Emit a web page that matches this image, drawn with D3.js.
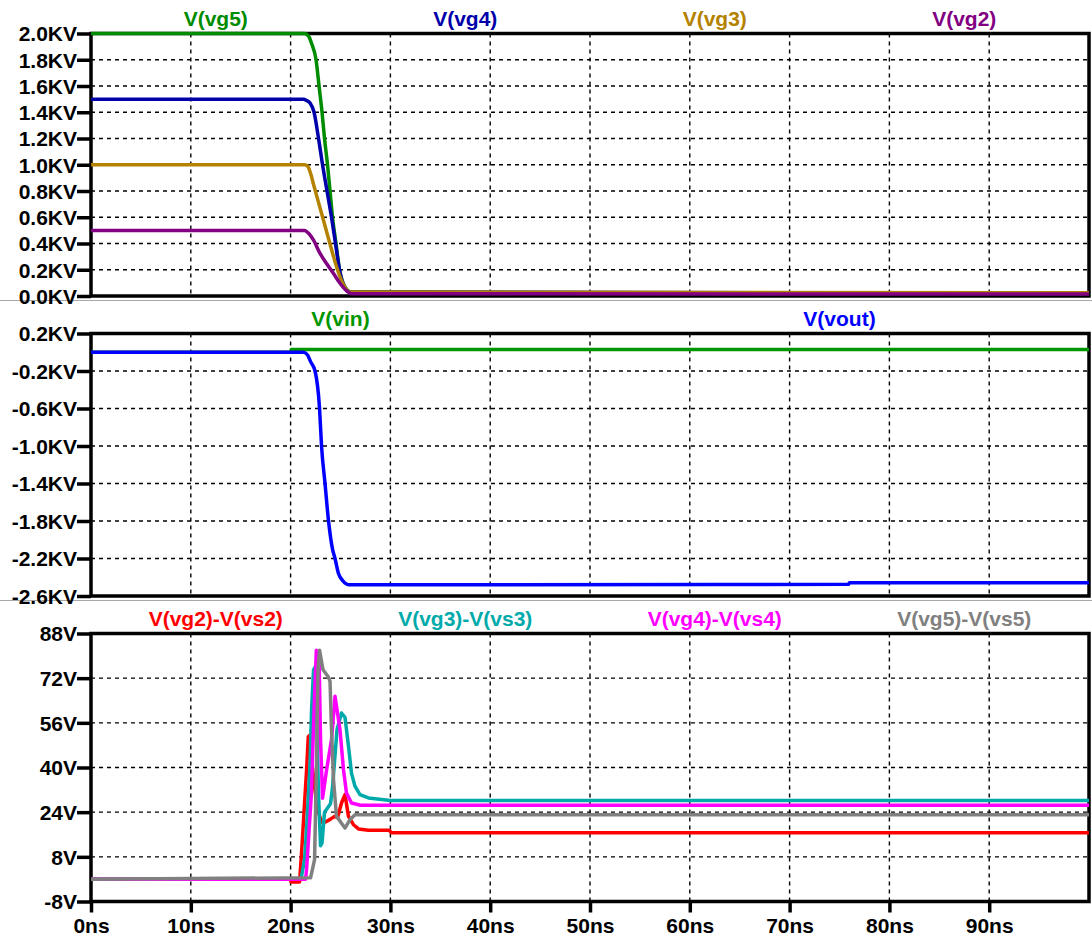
<!DOCTYPE html>
<html>
<head>
<meta charset="utf-8">
<script src="https://cdn.jsdelivr.net/npm/d3@7"></script>
<style>
  html, body { margin: 0; padding: 0; background: #fff; }
  svg { display: block; }
  text { font-family: "Liberation Sans", Arial, sans-serif; font-weight: bold; font-size: 21px; }
</style>
</head>
<body>
<svg id="chart" width="1092" height="940"></svg>
<script>
// ---------------- DATA ----------------
// Time axis (ns)
const xTicks = [0, 10, 20, 30, 40, 50, 60, 70, 80, 90];

// Panel 1 (KV)
const p1Ticks = [2.0, 1.8, 1.6, 1.4, 1.2, 1.0, 0.8, 0.6, 0.4, 0.2, 0.0];
const p1Names = ["V(vg5)", "V(vg4)", "V(vg3)", "V(vg2)"];
const tVg5 = [0, 21.4, 21.8, 22.1, 22.55, 22.85, 23.15, 23.4, 23.7, 23.95, 24.2, 24.55, 24.9, 25.45, 26.1, 100];
const vg5  = [2.0, 2.0, 1.98, 1.925, 1.8, 1.6, 1.4, 1.2, 1.0, 0.8, 0.6, 0.4, 0.2, 0.07, 0.03, 0.02];
const tVg4 = [0, 21.3, 21.6, 21.95, 22.35, 22.8, 23.2, 23.65, 24.1, 24.5, 24.9, 25.4, 26.0, 100];
const vg4  = [1.5, 1.5, 1.49, 1.47, 1.4, 1.2, 1.0, 0.8, 0.6, 0.4, 0.2, 0.07, 0.03, 0.02];
const tVg3 = [0, 21.4, 21.7, 22.0, 22.3, 22.7, 23.1, 23.5, 23.9, 24.3, 24.7, 25.3, 25.95, 100];
const vg3  = [1.0, 1.0, 0.99, 0.935, 0.85, 0.74, 0.63, 0.52, 0.41, 0.3, 0.2, 0.085, 0.03, 0.025];
const tVg2 = [0, 21.4, 21.8, 22.3, 22.95, 23.6, 24.3, 24.95, 25.6, 26.1, 100];
const vg2  = [0.5, 0.5, 0.478, 0.425, 0.324, 0.248, 0.171, 0.097, 0.04, 0.018, 0.015];

// Panel 2 (KV)
const p2Ticks = [0.2, -0.2, -0.6, -1.0, -1.4, -1.8, -2.2, -2.6];
const p2Names = ["V(vin)", "V(vout)"];
const tVin = [0, 20, 20.05, 100];
const vin  = [0, 0, 0.03, 0.03];
const tVout = [0, 21.3, 21.7, 22.0, 22.45, 22.9, 23.1, 23.45, 23.8, 24.2, 24.45, 24.8, 25.25, 25.8, 40, 75.9, 76.0, 100];
const vout  = [0, 0, -0.03, -0.1, -0.2, -0.6, -1.0, -1.4, -1.8, -2.1, -2.2, -2.36, -2.44, -2.48, -2.48, -2.475, -2.458, -2.458];

// Panel 3 (V)
const p3Ticks = [88, 72, 56, 40, 24, 8, -8];
const p3Names = ["V(vg2)-V(vs2)", "V(vg3)-V(vs3)", "V(vg4)-V(vs4)", "V(vg5)-V(vs5)"];
const tGs2 = [0, 20, 20.05, 20.9, 21.07, 21.24, 21.4, 21.6, 21.77, 21.9, 22.1, 22.4, 22.7, 23.1, 23.5, 24.0, 24.4, 24.7, 25.1, 25.45, 25.8, 26.3, 26.8, 27.8, 29.9, 30.1, 100];
const gs2  = [0, 0, -1, -1, 8, 17.7, 27.3, 39, 51, 51.5, 43, 33, 25, 20.5, 20.5, 21.5, 22.5, 22, 27.3, 30.3, 22.5, 19.5, 18, 17.5, 17.5, 16.6, 16.6];
const tGs3 = [0, 21.0, 21.07, 21.4, 21.6, 21.95, 22.1, 22.3, 22.45, 22.6, 22.8, 23.0, 23.15, 23.4, 24.0, 24.2, 24.4, 24.65, 25.1, 25.45, 25.8, 26.1, 26.45, 26.95, 27.8, 30, 100];
const gs3  = [0, 0, 0.5, 7, 17.8, 41.6, 60.7, 75, 76, 60, 30, 12, 13, 24, 27, 33, 42, 53.5, 59.5, 58, 47.6, 38, 33.3, 30.3, 29.1, 28.2, 28.2];
const tGs4 = [0, 21.5, 21.6, 22.07, 22.4, 22.58, 22.85, 23.0, 23.2, 23.6, 24.1, 24.45, 24.95, 25.3, 25.6, 26.1, 27, 100];
const gs4  = [0, 0, 3.4, 29.7, 65.5, 82, 80, 50, 29, 39, 50, 65.5, 53.5, 39.2, 30.9, 27.3, 26.5, 26.5];
const tGs5 = [0, 22.0, 22.4, 22.6, 22.75, 22.9, 23.25, 23.75, 23.95, 24.1, 24.3, 24.6, 25.1, 25.45, 25.95, 26.45, 100];
const gs5  = [0, 0.5, 7, 41.6, 75, 82, 75, 72.6, 71, 53.5, 35.6, 22.5, 20, 18.3, 21.3, 23.1, 23.1];

// ---------------- DRAWING ----------------
const svg = d3.select("#chart");
const x = d3.scaleLinear().domain([0, 100]).range([91, 1089]);

const zip = (t, v) => t.map((d, i) => [d, v[i]]);

const panels = [
  {
    top: 33.5, bottom: 296, domain: [0, 2.0], ticks: p1Ticks,
    fmt: d => d3.format(".1f")(d) + "KV",
    curve: d3.curveMonotoneX,
    series: [
      { name: p1Names[0], color: "#008c00", data: zip(tVg5, vg5) },
      { name: p1Names[1], color: "#0000aa", data: zip(tVg4, vg4) },
      { name: p1Names[2], color: "#b48200", data: zip(tVg3, vg3) },
      { name: p1Names[3], color: "#820082", data: zip(tVg2, vg2) }
    ]
  },
  {
    top: 333.5, bottom: 596, domain: [-2.6, 0.2], ticks: p2Ticks,
    fmt: d => d3.format(".1f")(d).replace("\u2212", "-") + "KV",
    curve: d3.curveMonotoneX,
    series: [
      { name: p2Names[0], color: "#009600", data: zip(tVin, vin) },
      { name: p2Names[1], color: "#0000ff", data: zip(tVout, vout) }
    ]
  },
  {
    top: 633.5, bottom: 901.5, domain: [-8, 88], ticks: p3Ticks,
    fmt: d => String(d) + "V",
    curve: d3.curveLinear,
    series: [
      { name: p3Names[0], color: "#ff0000", data: zip(tGs2, gs2) },
      { name: p3Names[1], color: "#00aaaa", data: zip(tGs3, gs3) },
      { name: p3Names[2], color: "#ff00ff", data: zip(tGs4, gs4) },
      { name: p3Names[3], color: "#808080", data: zip(tGs5, gs5) }
    ]
  }
];

// separators
[300.5, 600.5].forEach(yy => {
  svg.append("line").attr("x1", 0).attr("x2", 1092).attr("y1", yy).attr("y2", yy)
    .attr("stroke", "#a8a8a8").attr("stroke-width", 1);
});

const x0 = x.range()[0], x1 = x.range()[1];

panels.forEach((p, pi) => {
  const y = d3.scaleLinear().domain(p.domain).range([p.bottom, p.top]);
  const g = svg.append("g");

  // grid
  const grid = g.append("g").attr("stroke", "#000").attr("stroke-width", 1.4)
    .attr("stroke-dasharray", "4,4").attr("fill", "none");
  p.ticks.filter(v => v !== p.domain[0] && v !== p.domain[1]).forEach(v => {
    grid.append("line").attr("x1", x0).attr("x2", x1).attr("y1", y(v)).attr("y2", y(v));
  });
  xTicks.filter(v => v !== 0).forEach(v => {
    grid.append("line").attr("x1", x(v)).attr("x2", x(v)).attr("y1", p.top).attr("y2", p.bottom);
  });

  // frame
  g.append("rect").attr("x", x0).attr("y", p.top).attr("width", x1 - x0).attr("height", p.bottom - p.top)
    .attr("fill", "none").attr("stroke", "#000").attr("stroke-width", 3.5);

  // y axis
  const ya = g.append("g").attr("transform", `translate(${x0},0)`)
    .call(d3.axisLeft(y).tickValues(p.ticks).tickFormat(p.fmt).tickSize(14).tickPadding(0));
  ya.select(".domain").remove();
  ya.selectAll(".tick line").attr("stroke", "#000").attr("stroke-width", 3.5);
  ya.selectAll(".tick text").attr("fill", "#000").attr("dy", "0.35em")
    .style("font-family", '"Liberation Sans", Arial, sans-serif').style("font-size", "21px").style("font-weight", "bold");

  // x axis for last panel
  if (pi === panels.length - 1) {
    const xa = g.append("g").attr("transform", `translate(0,${p.bottom})`)
      .call(d3.axisBottom(x).tickValues(xTicks).tickFormat(d => d + "ns").tickSize(11).tickPadding(6));
    xa.select(".domain").remove();
    xa.selectAll(".tick line").attr("stroke", "#000").attr("stroke-width", 3.5);
    xa.selectAll(".tick text").attr("fill", "#000")
      .style("font-family", '"Liberation Sans", Arial, sans-serif').style("font-size", "21px").style("font-weight", "bold");
  }

  // lines
  const line = d3.line().x(d => x(d[0])).y(d => y(d[1])).curve(p.curve);
  p.series.forEach(s => {
    g.append("path").datum(s.data).attr("d", line)
      .attr("fill", "none").attr("stroke", s.color).attr("stroke-width", 3.5)
      .attr("stroke-linejoin", "round").attr("stroke-linecap", "butt");
  });

  // titles
  const n = p.series.length;
  p.series.forEach((s, i) => {
    g.append("text")
      .attr("x", x0 + (x1 - x0) * (i + 0.5) / n)
      .attr("y", p.top - 8)
      .attr("text-anchor", "middle")
      .attr("fill", s.color)
      .text(s.name);
  });
});
</script>
</body>
</html>
